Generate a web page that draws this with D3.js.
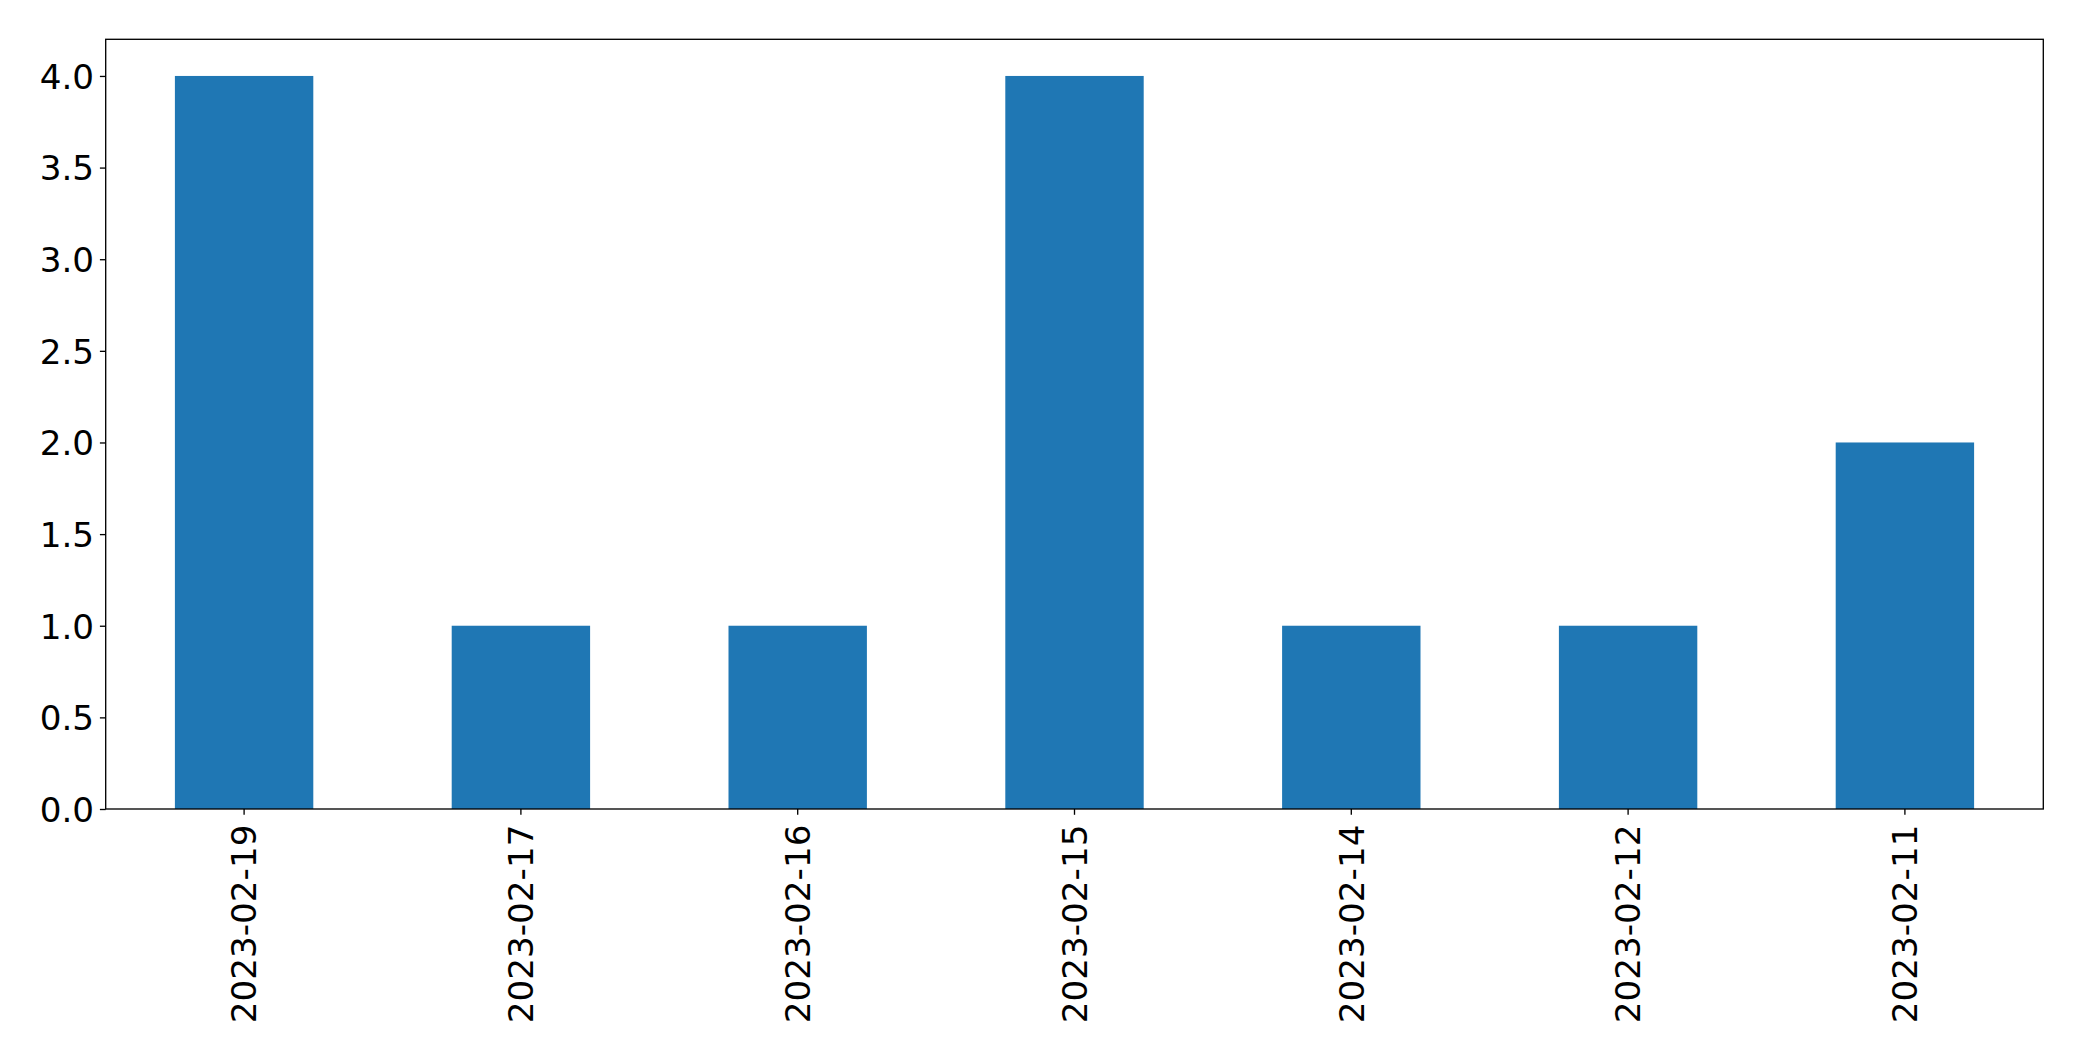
<!DOCTYPE html>
<html><head><meta charset="utf-8">
<script src="https://cdn.jsdelivr.net/npm/d3@7"></script>
<style>body{margin:0;background:#fff}svg{display:block}</style>
</head><body>
<script>
const categories = ["2023-02-19","2023-02-17","2023-02-16","2023-02-15","2023-02-14","2023-02-12","2023-02-11"];
const values = [4,1,1,4,1,1,2];
const yTicks = [0,0.5,1,1.5,2,2.5,3,3.5,4];

const W = 2082, H = 1061;
const m = {left:105.7, right:2043.3, top:39.3, bottom:809};
const svg = d3.select("body").append("svg").attr("width",W).attr("height",H);
const fontFam = "'DejaVu Sans', sans-serif";
const fs = 34.2;

const x = d3.scaleBand().domain(categories).range([m.left,m.right]).paddingInner(0.5).paddingOuter(0.25);
const y = d3.scaleLinear().domain([0,4.2]).range([m.bottom,m.top]);

svg.append("g").selectAll("rect").data(values).join("rect")
  .attr("x",(d,i)=>x(categories[i]))
  .attr("width",x.bandwidth())
  .attr("y",d=>y(d))
  .attr("height",d=>y(0)-y(d))
  .attr("fill","#1f77b4");

const yAxis = svg.append("g").attr("transform",`translate(${m.left},0)`)
  .call(d3.axisLeft(y).tickValues(yTicks).tickFormat(d3.format(".1f")).tickSize(5.8).tickPadding(5.8));
const xAxis = svg.append("g").attr("transform",`translate(0,${m.bottom})`)
  .call(d3.axisBottom(x).tickSize(5.8).tickPadding(5.8));
[yAxis,xAxis].forEach(a=>{
  a.select(".domain").remove();
  a.selectAll(".tick line").attr("stroke","#000").attr("stroke-width",1.33);
  a.selectAll("text").attr("font-family",fontFam).attr("font-size",fs).attr("fill","#000");
});
yAxis.selectAll("text").attr("dy","0.36em");
xAxis.selectAll("text")
  .attr("transform","rotate(-90)")
  .attr("text-anchor","end")
  .attr("x",-(5.8+5.8+4))
  .attr("y",0)
  .attr("dy","0.36em");

svg.append("rect").attr("x",m.left).attr("y",m.top)
  .attr("width",m.right-m.left).attr("height",m.bottom-m.top)
  .attr("fill","none").attr("stroke","#000").attr("stroke-width",1.33);
</script>
</body></html>
